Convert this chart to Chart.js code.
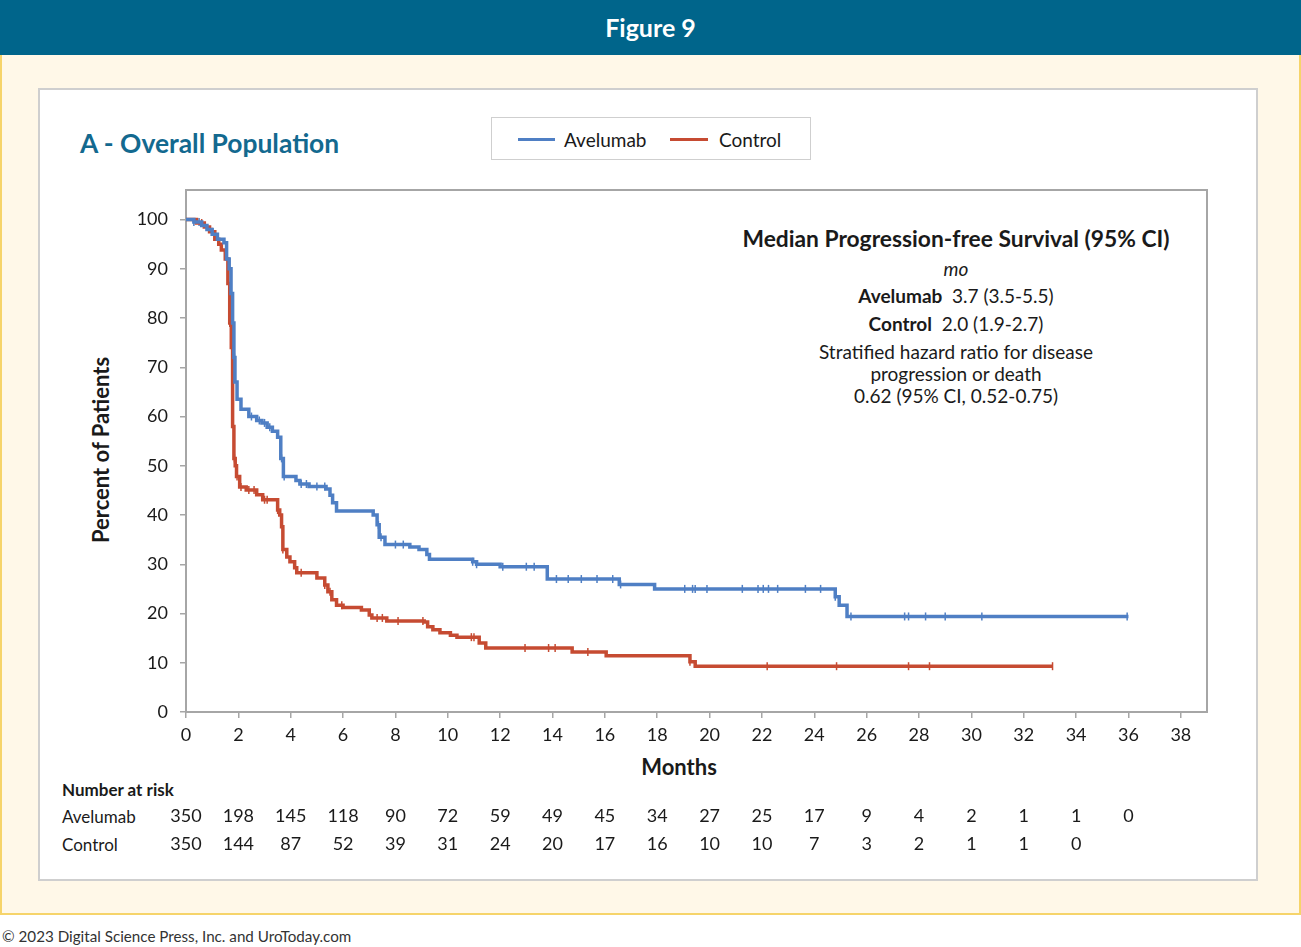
<!DOCTYPE html>
<html>
<head>
<meta charset="utf-8">
<script src="https://cdn.jsdelivr.net/npm/chart.js@4.4.0/dist/chart.umd.min.js"></script>
<style>
body { margin:0; width:1301px; height:947px; position:relative; background:#fff; font-family: Lato, sans-serif; color:#1a1a1a; overflow:hidden; }
.abs { position:absolute; }
.mid { transform: translateY(-50%); line-height:1; white-space:nowrap; }
#header { left:0; top:0; width:1301px; height:55px; background:#00658b; color:#fff; font-size:25px; font-weight:bold; text-align:center; line-height:55px; }
#cream { left:0; top:55px; width:1297px; height:858px; background:#fff8e8; border:2px solid #f6d46a; border-top:none; }
#panel { left:38px; top:88px; width:1216px; height:789px; background:#fff; border:2px solid #cfcfcf; }
#title { left:80px; top:143px; font-size:26.4px; font-weight:bold; color:#13698f; }
#legend { left:491px; top:117px; width:318px; height:41px; border:1px solid #cfcfcf; background:#fff; }
.lline { position:absolute; top:20px; height:3px; }
.ltext { position:absolute; top:21px; font-size:19px; transform:translateY(-50%); line-height:1; }
.ann { left:656px; width:600px; text-align:center; font-size:19px; }
#ytitle { left:101px; top:450px; font-size:22px; font-weight:bold; transform:translate(-50%,-50%) rotate(-90deg); white-space:nowrap; line-height:1; }
#xtitle { left:679px; top:767px; font-size:22px; font-weight:bold; transform:translate(-50%,-50%); line-height:1; }
.risk { left:62px; font-size:17px; }
#footer { left:2px; top:937px; font-size:15.2px; color:#333; }
#wrap { left:0; top:0; }
</style>
</head>
<body>
<div id="header" class="abs">Figure 9</div>
<div id="cream" class="abs"></div>
<div id="panel" class="abs"></div>
<div id="title" class="abs mid">A - Overall Population</div>
<div id="legend" class="abs">
  <div class="lline" style="left:26px;width:37px;background:#4f7fc4"></div>
  <div class="ltext" style="left:72px">Avelumab</div>
  <div class="lline" style="left:178px;width:38px;background:#c64b32"></div>
  <div class="ltext" style="left:227px">Control</div>
</div>
<div class="abs mid ann" style="top:238px;font-size:22.8px;font-weight:bold">Median Progression-free Survival (95% CI)</div>
<div class="abs mid ann" style="top:268px;font-style:italic">mo</div>
<div class="abs mid ann" style="top:295px"><b>Avelumab</b>&nbsp; 3.7 (3.5-5.5)</div>
<div class="abs mid ann" style="top:323px"><b>Control</b>&nbsp; 2.0 (1.9-2.7)</div>
<div class="abs mid ann" style="top:351px">Stratified hazard ratio for disease</div>
<div class="abs mid ann" style="top:373px">progression or death</div>
<div class="abs mid ann" style="top:395px">0.62 (95% CI, 0.52-0.75)</div>
<div id="ytitle" class="abs">Percent of Patients</div>
<div id="xtitle" class="abs">Months</div>
<div class="abs mid risk" style="top:789px;font-weight:bold">Number at risk</div>
<div class="abs mid risk" style="top:816px">Avelumab</div>
<div class="abs mid risk" style="top:844px">Control</div>
<div id="footer" class="abs mid">© 2023 Digital Science Press, Inc. and UroToday.com</div>
<div id="wrap" class="abs"><canvas id="kmChart" width="1301" height="947"></canvas></div>

<script>
// Kaplan-Meier steps: time (months) where the curve drops, and level after the drop (%)
var avelumabTime = [0, 0.3, 0.6, 0.8, 1.0, 1.2, 1.45, 1.55, 1.65, 1.72, 1.78, 1.83, 1.87, 1.95, 2.1, 2.4, 2.7, 2.9, 3.1, 3.3, 3.5, 3.62, 3.72, 4.2, 4.35, 4.7, 5.35, 5.5, 5.6, 5.75, 7.15, 7.3, 7.38, 7.6, 8.55, 8.9, 9.2, 9.3, 10.95, 11.1, 12.0, 13.8, 16.55, 17.9, 24.8, 24.95, 25.25, 36.0];
var avelumabSurv = [100, 99.5, 98.8, 98, 97, 96, 95.3, 92, 90, 85, 79, 72, 67, 63.5, 61.5, 60, 59.2, 58.7, 57.8, 57, 55.8, 51.5, 47.8, 47, 46.3, 45.8, 45.3, 44, 42.5, 40.8, 40, 38, 35.5, 34, 33.5, 33, 32, 31, 30.5, 30, 29.5, 27, 25.9, 25, 23.4, 21.7, 19.4, 19.4];

var controlTime = [0, 0.4, 0.7, 0.9, 1.1, 1.25, 1.35, 1.5, 1.6, 1.67, 1.73, 1.78, 1.83, 1.88, 1.93, 2.05, 2.3, 2.7, 2.93, 3.5, 3.58, 3.65, 3.7, 3.85, 3.97, 4.15, 4.23, 5.0, 5.3, 5.42, 5.57, 5.75, 6.0, 6.7, 7.0, 7.1, 7.67, 9.1, 9.23, 9.43, 9.7, 10.1, 10.35, 11.2, 11.45, 14.75, 16.05, 19.25, 19.45, 33.1];
var controlSurv = [100, 99.3, 98.5, 97.5, 96, 95, 93.8, 92, 87, 79, 74, 58, 51.5, 50, 47.8, 45.7, 45.1, 44.1, 43.1, 41, 40, 37.6, 33, 31.5, 30.5, 29.3, 28.3, 27.2, 25.8, 24.4, 22.8, 21.7, 21.2, 20.7, 19.7, 19.1, 18.5, 18.3, 17.3, 16.7, 16.1, 15.6, 15.2, 14.0, 13.0, 12.2, 11.4, 10.2, 9.3, 9.3];

// censoring times (months)
var avelumabCensor = [0.3, 0.5, 1.72, 1.85, 2.5, 2.8, 3.0, 3.2, 3.65, 3.75, 4.4, 4.6, 5.0, 5.3, 7.35, 7.45, 8.0, 8.3, 10.95, 11.1, 12.1, 13.0, 13.3, 14.15, 14.6, 15.1, 15.7, 16.3, 16.6, 19.05, 19.35, 19.45, 19.9, 21.25, 21.85, 22.05, 22.25, 22.6, 23.66, 24.24, 24.8, 25.4, 27.45, 27.6, 28.25, 29.0, 30.4, 35.95];
var controlCensor = [0.6, 1.0, 1.67, 1.85, 1.95, 2.1, 2.4, 2.6, 3.0, 3.1, 3.5, 3.7, 4.4, 5.3, 5.5, 5.95, 7.3, 7.5, 8.1, 9.05, 10.9, 11.0, 12.95, 13.85, 14.1, 15.35, 19.25, 22.2, 24.85, 27.6, 28.4, 33.1];

// number at risk
var riskMonths = [0, 2, 4, 6, 8, 10, 12, 14, 16, 18, 20, 22, 24, 26, 28, 30, 32, 34, 36];
var riskAvelumab = [350, 198, 145, 118, 90, 72, 59, 49, 45, 34, 27, 25, 17, 9, 4, 2, 1, 1, 0];
var riskControl = [350, 144, 87, 52, 39, 31, 24, 20, 17, 16, 10, 10, 7, 3, 2, 1, 1, 0];

var azul = '#4f7fc4';
var rojo = '#c64b32';
var gris = '#a6a6a6';

function nivel(tiempos, surv, t) {
    var v = surv[0];
    for (var i = 0; i < tiempos.length; i++) {
        if (tiempos[i] <= t) v = surv[i];
    }
    return v;
}

function puntos(tiempos, surv) {
    return tiempos.map(function (t, i) { return { x: t, y: surv[i] }; });
}

function censuras(cens, tiempos, surv) {
    return cens.map(function (t) { return { x: t, y: nivel(tiempos, surv, t) }; });
}

// marco del grafico y tabla de pacientes en riesgo
var marcoPlugin = {
    id: 'marco',
    beforeDatasetsDraw: function (chart) {
        var a = chart.chartArea, c = chart.ctx;
        c.save();
        c.strokeStyle = gris;
        c.lineWidth = 2;
        c.strokeRect(a.left, a.top, a.right - a.left, a.bottom - a.top);
        c.restore();
    }
};

var riesgoPlugin = {
    id: 'riesgo',
    afterDraw: function (chart) {
        var c = chart.ctx, xs = chart.scales.x;
        c.save();
        c.font = '18px Lato';
        c.fillStyle = '#1a1a1a';
        c.textAlign = 'center';
        c.textBaseline = 'middle';
        riskAvelumab.forEach(function (n, i) {
            c.fillText(String(n), xs.getPixelForValue(riskMonths[i]), 816);
        });
        riskControl.forEach(function (n, i) {
            c.fillText(String(n), xs.getPixelForValue(riskMonths[i]), 844);
        });
        c.restore();
    }
};

var ctx = document.getElementById('kmChart').getContext('2d');

var kmChart = new Chart(ctx, {
    type: 'line',
    data: {
        datasets: [{
            label: 'Avelumab',
            data: puntos(avelumabTime, avelumabSurv),
            borderColor: azul,
            borderWidth: 3.5,
            stepped: 'before',
            pointRadius: 0,
            fill: false
        },
        {
            label: 'Control',
            data: puntos(controlTime, controlSurv),
            borderColor: rojo,
            borderWidth: 3.5,
            stepped: 'before',
            pointRadius: 0,
            fill: false
        },
        {
            label: 'Avelumab censored',
            data: censuras(avelumabCensor, avelumabTime, avelumabSurv),
            showLine: false,
            pointStyle: 'line',
            rotation: 90,
            pointRadius: 4,
            borderColor: azul,
            borderWidth: 1.5
        },
        {
            label: 'Control censored',
            data: censuras(controlCensor, controlTime, controlSurv),
            showLine: false,
            pointStyle: 'line',
            rotation: 90,
            pointRadius: 4,
            borderColor: rojo,
            borderWidth: 1.5
        }]
    },
    options: {
        responsive: false,
        animation: false,
        layout: { padding: { left: 0, top: 190, right: 94, bottom: 0 } },
        plugins: {
            legend: { display: false },
            tooltip: { enabled: false }
        },
        scales: {
            x: {
                type: 'linear',
                min: 0,
                max: 39,
                afterFit: function (s) { s.height = 235; },
                ticks: {
                    stepSize: 2,
                    includeBounds: false,
                    autoSkip: false,
                    maxRotation: 0,
                    padding: 6,
                    color: '#1a1a1a',
                    font: { family: 'Lato', size: 18 }
                },
                grid: { drawOnChartArea: false, tickLength: 6, color: gris, lineWidth: 1.5 },
                border: { display: false }
            },
            y: {
                min: 0,
                max: 106,
                afterFit: function (s) { s.width = 186; },
                ticks: {
                    stepSize: 10,
                    includeBounds: false,
                    padding: 12,
                    color: '#1a1a1a',
                    font: { family: 'Lato', size: 18 }
                },
                grid: { drawOnChartArea: false, tickLength: 6, color: gris, lineWidth: 1.5 },
                border: { display: false }
            }
        }
    },
    plugins: [marcoPlugin, riesgoPlugin]
});
</script>
</body>
</html>
